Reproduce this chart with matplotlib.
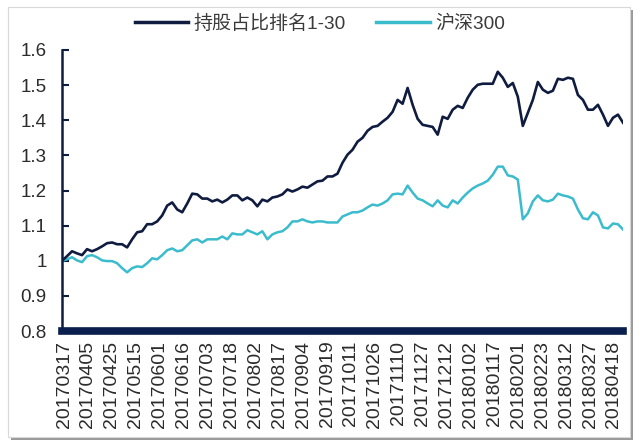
import numpy as np
import matplotlib.pyplot as plt
from matplotlib.patches import Rectangle

plt.rcParams['font.family'] = ['Liberation Sans', 'Noto Sans CJK SC', 'DejaVu Sans']

# series (relative value, start = 1)
top30 = [1.000, 1.013, 1.027, 1.021, 1.016, 1.033, 1.027, 1.033, 1.041, 1.050,
         1.052, 1.047, 1.047, 1.038, 1.061, 1.081, 1.084, 1.104, 1.104, 1.112,
         1.129, 1.157, 1.166, 1.146, 1.138, 1.163, 1.191, 1.189, 1.177, 1.177,
         1.169, 1.174, 1.166, 1.174, 1.186, 1.186, 1.172, 1.180, 1.172, 1.155,
         1.174, 1.169, 1.180, 1.183, 1.189, 1.203, 1.197, 1.203, 1.211, 1.208,
         1.217, 1.226, 1.228, 1.240, 1.240, 1.248, 1.279, 1.302, 1.316, 1.339,
         1.350, 1.370, 1.381, 1.384, 1.396, 1.407, 1.424, 1.458, 1.447, 1.492,
         1.444, 1.404, 1.387, 1.384, 1.381, 1.359, 1.410, 1.404, 1.430, 1.441,
         1.435, 1.464, 1.487, 1.501, 1.504, 1.504, 1.504, 1.538, 1.521, 1.495,
         1.506, 1.467, 1.384, 1.421, 1.458, 1.509, 1.487, 1.478, 1.484, 1.518,
         1.515, 1.521, 1.518, 1.472, 1.458, 1.430, 1.430, 1.444, 1.416, 1.384,
         1.407, 1.416, 1.393]

hs300 = [1.000, 1.004, 1.010, 1.001, 0.996, 1.013, 1.016, 1.010, 1.001, 0.999,
         0.999, 0.993, 0.979, 0.967, 0.979, 0.984, 0.982, 0.993, 1.007, 1.004,
         1.016, 1.030, 1.035, 1.027, 1.030, 1.044, 1.058, 1.061, 1.052, 1.061,
         1.061, 1.061, 1.069, 1.061, 1.078, 1.075, 1.075, 1.087, 1.081, 1.075,
         1.084, 1.061, 1.075, 1.081, 1.084, 1.095, 1.112, 1.112, 1.118, 1.112,
         1.109, 1.112, 1.112, 1.109, 1.109, 1.109, 1.126, 1.132, 1.138, 1.138,
         1.143, 1.152, 1.160, 1.157, 1.163, 1.172, 1.189, 1.191, 1.189, 1.214,
         1.194, 1.177, 1.172, 1.163, 1.155, 1.172, 1.157, 1.152, 1.172, 1.163,
         1.180, 1.194, 1.206, 1.214, 1.220, 1.228, 1.245, 1.268, 1.268, 1.243,
         1.240, 1.231, 1.118, 1.135, 1.169, 1.186, 1.172, 1.169, 1.174, 1.191,
         1.186, 1.183, 1.177, 1.146, 1.121, 1.118, 1.138, 1.129, 1.095, 1.092,
         1.106, 1.104, 1.089]

date_labels = ['20170317', '20170405', '20170425', '20170515', '20170601',
               '20170616', '20170703', '20170718', '20170802', '20170817',
               '20170904', '20170919', '20171011', '20171026', '20171110',
               '20171127', '20171212', '20180102', '20180117', '20180201',
               '20180223', '20180312', '20180327', '20180418']

y_ticks = [0.8, 0.9, 1.0, 1.1, 1.2, 1.3, 1.4, 1.5, 1.6]
y_labels = ['0.8', '0.9', '1', '1.1', '1.2', '1.3', '1.4', '1.5', '1.6']

navy = '#0f1c3f'
teal = '#3bbccd'
bar = '#0b1f4e'
txt = '#2b2b2b'

fig = plt.figure(figsize=(6.4, 4.46), dpi=100)

# card frame with a soft shadow, kept behind the axes
fig.patches.append(Rectangle((11 / 640, 6 / 446), 622 / 640, 430 / 446,
                             transform=fig.transFigure, facecolor='#9a9a9a',
                             edgecolor='none', zorder=-2))
fig.patches.append(Rectangle((8 / 640, 9 / 446), 622 / 640, 430 / 446,
                             transform=fig.transFigure, facecolor='white',
                             edgecolor='#d8d8d8', linewidth=0.8, zorder=-1))

ax = fig.add_axes([62 / 640, 1 - 331 / 446, (623 - 62) / 640, (331 - 50) / 446])
ax.patch.set_visible(False)

x = np.arange(len(top30))
ax.plot(x, hs300, color=teal, lw=1.8, label='沪深300', zorder=2)
ax.plot(x, top30, color=navy, lw=1.9, label='持股占比排名1-30', zorder=3)

ax.set_xlim(0, len(top30) - 1)
ax.set_ylim(0.8, 1.6)
ax.set_yticks(y_ticks)
ax.set_yticklabels(y_labels)
# one date label roughly every 4.8 sampled points
ax.set_xticks(0.4 + 4.774 * np.arange(len(date_labels)))
ax.set_xticklabels(date_labels, rotation=90)

for s in ['top', 'right']:
    ax.spines[s].set_visible(False)
ax.spines['left'].set_color(navy)
ax.spines['left'].set_linewidth(1.8)
ax.spines['bottom'].set_color(bar)
ax.spines['bottom'].set_linewidth(5.5)

ax.tick_params(axis='y', direction='in', length=5, width=1.5, color=navy,
               labelsize=13.5, labelcolor=txt, pad=11)
ax.tick_params(axis='x', length=0, labelsize=14, labelcolor=txt, pad=7)

handles, labels = ax.get_legend_handles_labels()
fig.legend(handles[::-1], labels[::-1], loc='center', bbox_to_anchor=(0.5, 1 - 24 / 446),
           ncol=2, frameon=False, fontsize=13.7, handlelength=2.8, handletextpad=0.3,
           columnspacing=1.6, labelcolor='#3a3a3a')
for line in fig.legends[0].get_lines():
    line.set_linewidth(2.5)

fig.savefig('out.png', dpi=100)
